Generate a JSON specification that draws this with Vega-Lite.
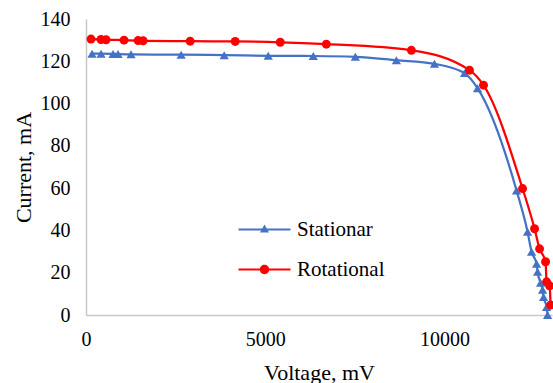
{
  "$schema": "https://vega.github.io/schema/vega-lite/v6.json",
  "width": 466,
  "height": 296,
  "autosize": {"type": "none"},
  "padding": {"left": 86, "top": 19, "right": 1, "bottom": 68},
  "background": "white",
  "config": {
    "view": {"stroke": null},
    "font": "Liberation Serif",
    "axis": {
      "grid": false,
      "ticks": false,
      "tickSize": 0,
      "domainColor": "#c8c8c8",
      "domainWidth": 1.5,
      "labelFont": "Liberation Serif",
      "labelFontSize": 20,
      "labelColor": "#000000",
      "titleFont": "Liberation Serif",
      "titleFontSize": 22,
      "titleFontWeight": "normal",
      "titleColor": "#000000"
    },
    "legend": {
      "labelFont": "Liberation Serif",
      "labelFontSize": 21,
      "labelColor": "#000000"
    }
  },
  "datasets": {
    "iv": [
      {"series": "Stationar", "voltage": 168, "current": 123.6},
      {"series": "Stationar", "voltage": 419, "current": 123.6},
      {"series": "Stationar", "voltage": 754, "current": 123.5},
      {"series": "Stationar", "voltage": 894, "current": 123.4},
      {"series": "Stationar", "voltage": 1257, "current": 123.3},
      {"series": "Stationar", "voltage": 2654, "current": 123.1},
      {"series": "Stationar", "voltage": 3855, "current": 122.9},
      {"series": "Stationar", "voltage": 5084, "current": 122.6},
      {"series": "Stationar", "voltage": 6341, "current": 122.5},
      {"series": "Stationar", "voltage": 7514, "current": 122.1},
      {"series": "Stationar", "voltage": 8659, "current": 120.5},
      {"series": "Stationar", "voltage": 9721, "current": 118.8},
      {"series": "Stationar", "voltage": 10559, "current": 114.4},
      {"series": "Stationar", "voltage": 10922, "current": 107.3},
      {"series": "Stationar", "voltage": 12011, "current": 58.9},
      {"series": "Stationar", "voltage": 12318, "current": 39.4},
      {"series": "Stationar", "voltage": 12430, "current": 29.9},
      {"series": "Stationar", "voltage": 12570, "current": 24.2},
      {"series": "Stationar", "voltage": 12598, "current": 20.4},
      {"series": "Stationar", "voltage": 12682, "current": 15.2},
      {"series": "Stationar", "voltage": 12737, "current": 11.9},
      {"series": "Stationar", "voltage": 12765, "current": 8.5},
      {"series": "Stationar", "voltage": 12849, "current": 3.8},
      {"series": "Stationar", "voltage": 12877, "current": 0},
      {"series": "Rotational", "voltage": 140, "current": 130.5},
      {"series": "Rotational", "voltage": 419, "current": 130.3},
      {"series": "Rotational", "voltage": 559, "current": 130.2},
      {"series": "Rotational", "voltage": 1061, "current": 130.0},
      {"series": "Rotational", "voltage": 1453, "current": 129.8},
      {"series": "Rotational", "voltage": 1592, "current": 129.7},
      {"series": "Rotational", "voltage": 2905, "current": 129.5},
      {"series": "Rotational", "voltage": 4162, "current": 129.4},
      {"series": "Rotational", "voltage": 5419, "current": 129.0},
      {"series": "Rotational", "voltage": 6704, "current": 128.1},
      {"series": "Rotational", "voltage": 9078, "current": 125.2},
      {"series": "Rotational", "voltage": 10698, "current": 115.8},
      {"series": "Rotational", "voltage": 11089, "current": 108.7},
      {"series": "Rotational", "voltage": 12179, "current": 59.8},
      {"series": "Rotational", "voltage": 12514, "current": 40.8},
      {"series": "Rotational", "voltage": 12654, "current": 31.3},
      {"series": "Rotational", "voltage": 12821, "current": 25.2},
      {"series": "Rotational", "voltage": 12849, "current": 15.7},
      {"series": "Rotational", "voltage": 12933, "current": 13.8},
      {"series": "Rotational", "voltage": 12961, "current": 4.7}
    ]
  },
  "data": {"name": "iv"},
  "encoding": {
    "x": {
      "field": "voltage",
      "type": "quantitative",
      "title": "Voltage, mV",
      "scale": {"domain": [0, 13000], "nice": false},
      "axis": {"values": [0, 5000, 10000], "format": "d", "labelPadding": 14, "titlePadding": 13, "labelFlush": false}
    },
    "y": {
      "field": "current",
      "type": "quantitative",
      "title": "Current, mA",
      "scale": {"domain": [0, 140], "nice": false},
      "axis": {"values": [0, 20, 40, 60, 80, 100, 120, 140], "labelPadding": 16, "titlePadding": 5}
    }
  },
  "layer": [
    {
      "transform": [{"filter": "datum.series === 'Stationar'"}],
      "mark": {"type": "line", "interpolate": "monotone", "strokeWidth": 2.25, "color": "#4472C4"}
    },
    {
      "transform": [{"filter": "datum.series === 'Rotational'"}],
      "mark": {"type": "line", "interpolate": "monotone", "strokeWidth": 2.25, "color": "#FF0000"}
    },
    {
      "transform": [{"filter": "datum.series === 'Stationar'"}],
      "mark": {"type": "point", "shape": "triangle-up", "filled": true, "opacity": 1, "size": 85, "color": "#4472C4"}
    },
    {
      "transform": [{"filter": "datum.series === 'Rotational'"}],
      "mark": {"type": "point", "shape": "circle", "filled": true, "opacity": 1, "size": 80, "color": "#FF0000"}
    },
    {
      "transform": [{"filter": "false"}],
      "mark": {"type": "point", "filled": true, "opacity": 1},
      "encoding": {
        "fill": {
          "field": "series",
          "type": "nominal",
          "scale": {"domain": ["Stationar", "Rotational"], "range": ["#4472C4", "#FF0000"]},
          "legend": {
            "title": null,
            "orient": "none",
            "legendX": 168,
            "legendY": 200,
            "padding": 0,
            "symbolSize": 400,
            "symbolOffset": 0,
            "symbolStrokeWidth": 0,
            "labelOffset": 22,
            "rowPadding": 18
          }
        },
        "shape": {
          "field": "series",
          "type": "nominal",
          "scale": {
            "domain": ["Stationar", "Rotational"],
            "range": [
              "M-2.6,-0.11H2.6V0.11H-2.6Z M0,-0.5L0.45,0.3L-0.45,0.3Z",
              "M-2.6,-0.11H2.6V0.11H-2.6Z M0.47,0A0.47,0.47 0 1,1 -0.47,0A0.47,0.47 0 1,1 0.47,0Z"
            ]
          },
          "legend": {
            "title": null,
            "orient": "none",
            "legendX": 168,
            "legendY": 200,
            "padding": 0,
            "symbolSize": 400,
            "symbolOffset": 0,
            "symbolStrokeWidth": 0,
            "labelOffset": 22,
            "rowPadding": 18
          }
        }
      }
    }
  ]
}
